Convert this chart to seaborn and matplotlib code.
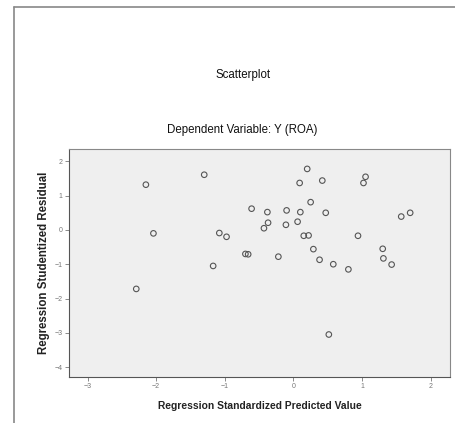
import matplotlib
matplotlib.use("Agg")
import matplotlib.pyplot as plt
import seaborn as sns
import pandas as pd
from matplotlib.lines import Line2D

# Regression standardized predicted value vs studentized residual
pred_values = [
    -2.15, -2.04, -2.29, -1.30, -1.08, -0.975, -1.17, -0.70, -0.66, -0.61,
    -0.38, -0.37, -0.43, -0.22, 0.20, 0.09, 0.42, 1.05, 1.02, 0.25,
    -0.10, 0.10, 0.47, -0.11, 0.06, 0.15, 0.22, 0.29, 0.38, 0.58,
    0.80, 0.94, 1.30, 1.31, 1.43, 1.57, 1.70, 0.515,
]
residuals = [
    1.32, -0.10, -1.72, 1.61, -0.09, -0.20, -1.05, -0.70, -0.71, 0.62,
    0.52, 0.21, 0.05, -0.78, 1.78, 1.37, 1.44, 1.55, 1.37, 0.81,
    0.57, 0.52, 0.50, 0.15, 0.24, -0.17, -0.16, -0.56, -0.87, -1.00,
    -1.15, -0.17, -0.55, -0.83, -1.01, 0.39, 0.50, -3.05,
]
x_ticks = [-3, -2, -1, 0, 1, 2]
y_ticks = [2, 1, 0, -1, -2, -3, -4]

df = pd.DataFrame({"pred": pred_values, "resid": residuals})

sns.set_style("white")
plt.rcParams["font.family"] = ["Liberation Sans", "DejaVu Sans"]

fig = plt.figure(figsize=(4.56, 4.23), dpi=100)
ax = fig.add_axes([0.1513, 0.1087, 0.8355, 0.539])
ax.set_facecolor("#efefef")

sns.scatterplot(data=df, x="pred", y="resid", ax=ax, s=16,
                facecolor="none", edgecolor="#555555", linewidth=0.8)

ax.set_xlim(-3.27, 2.28)
ax.set_ylim(-4.29, 2.36)
ax.set_xticks(x_ticks)
ax.set_yticks(y_ticks)
ax.tick_params(axis="both", direction="out", length=3, width=0.6,
               colors="#777777", labelsize=5, pad=1.5, left=True, bottom=True)
for side, sp in ax.spines.items():
    sp.set_color("#888888")
    sp.set_linewidth(0.8)
ax.spines["left"].set_color("#555555")
ax.spines["bottom"].set_color("#555555")

ax.set_xlabel("Regression Standardized Predicted Value", fontsize=7.4,
              fontweight="bold", color="#222222", labelpad=8)
ax.set_ylabel("Regression Studentized Residual", fontsize=8.3,
              fontweight="bold", color="#222222", labelpad=3)

fig.text(0.532, 0.823, "Scatterplot", ha="center", va="center",
         fontsize=8.3, color="#111111")
fig.text(0.532, 0.693, "Dependent Variable: Y (ROA)", ha="center", va="center",
         fontsize=8.3, color="#111111")

# outer frame of the chart window
fig.add_artist(Line2D([14 / 456, 14 / 456], [0, 1 - 7 / 423],
                      transform=fig.transFigure, color="#888888", lw=1.2))
fig.add_artist(Line2D([14 / 456, 1], [1 - 7 / 423, 1 - 7 / 423],
                      transform=fig.transFigure, color="#888888", lw=1.2))

fig.savefig("out.png", dpi=100)
